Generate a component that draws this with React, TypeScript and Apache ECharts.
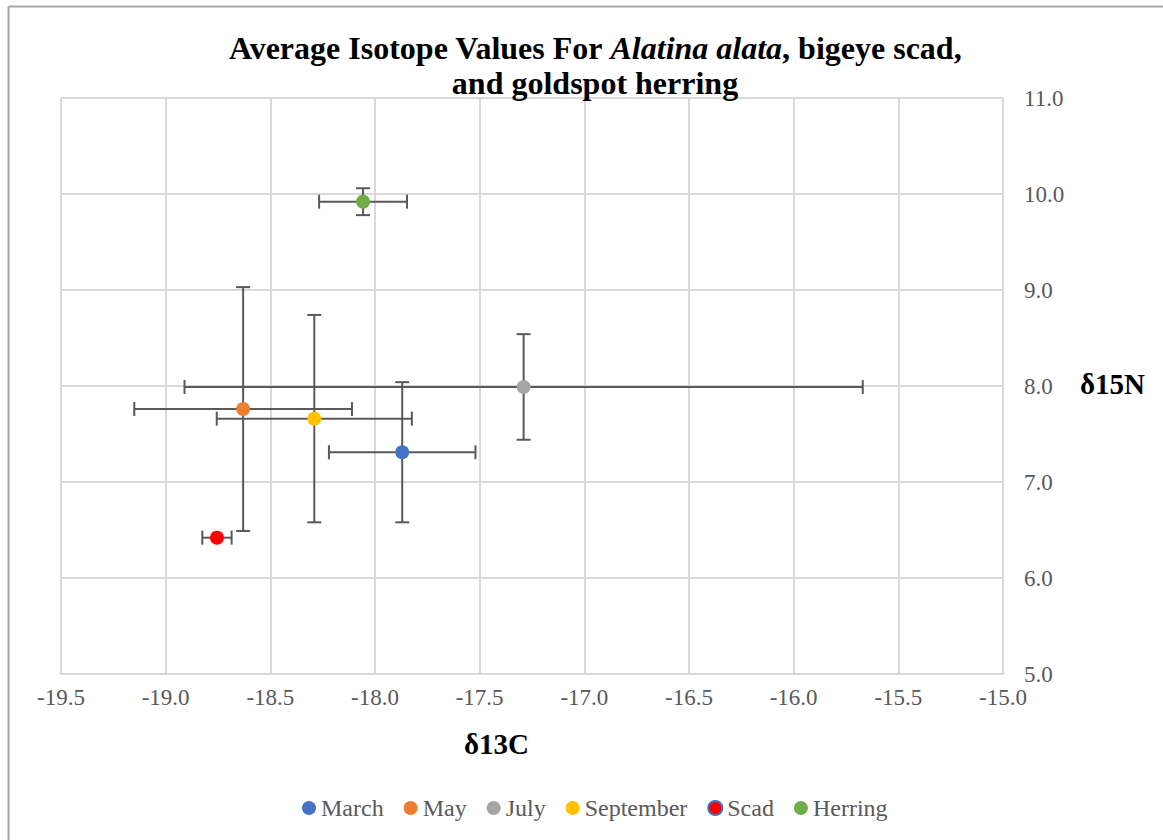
import React, { useEffect, useRef } from "react";
import * as echarts from "echarts";

const seriesNames = ["March", "May", "July", "September", "Scad", "Herring"];
const colors = ["#4472C4", "#ED7D31", "#A5A5A5", "#FFC000", "#FF0000", "#70AD47"];
const d13C = [-17.87, -18.63, -17.29, -18.29, -18.755, -18.057];
const d15N = [7.31, 7.76, 7.99, 7.66, 6.42, 9.92];
const errC = [0.35, 0.52, 1.62, 0.466, 0.07, 0.21];
const errN = [0.73, 1.27, 0.55, 1.08, 0.0, 0.14];
const xTicks = { min: -19.5, max: -15.0, interval: 0.5 };
const yTicks = { min: 5.0, max: 11.0, interval: 1.0 };

const FONT = "Liberation Serif";

export default function App() {
  const ref = useRef<HTMLDivElement>(null);
  useEffect(() => {
    const chart = echarts.init(ref.current!, null, { renderer: "svg" });
    const errData = seriesNames.map((_, i) => [d13C[i], d15N[i], errC[i], errN[i]]);
    const option: any = {
      animation: false,
      backgroundColor: "#ffffff",
      textStyle: { fontFamily: FONT },
      title: {
        text: "Average Isotope Values For {i|Alatina alata}, bigeye scad,\nand goldspot herring",
        left: 590,
        textAlign: "center",
        top: 25,
        textStyle: {
          fontFamily: FONT,
          fontWeight: "bold",
          fontSize: 32,
          color: "#000000",
          lineHeight: 35,
          rich: {
            i: {
              fontFamily: FONT,
              fontWeight: "bold",
              fontStyle: "italic",
              fontSize: 32,
              color: "#000000",
              lineHeight: 35,
            },
          },
        },
      },
      grid: { left: 61, right: 160, top: 98, bottom: 166, containLabel: false },
      xAxis: {
        type: "value",
        min: xTicks.min,
        max: xTicks.max,
        interval: xTicks.interval,
        axisLine: { show: true, lineStyle: { color: "#d9d9d9", width: 2 } },
        axisTick: { show: false },
        axisLabel: {
          formatter: (v: number) => v.toFixed(1),
          fontFamily: FONT,
          fontSize: 23,
          color: "#595959",
          margin: 12,
        },
        splitLine: { show: true, lineStyle: { color: "#d9d9d9", width: 2 } },
      },
      yAxis: {
        type: "value",
        position: "right",
        min: yTicks.min,
        max: yTicks.max,
        interval: yTicks.interval,
        axisLine: { show: true, lineStyle: { color: "#d9d9d9", width: 2 } },
        axisTick: { show: false },
        axisLabel: {
          formatter: (v: number) => v.toFixed(1),
          fontFamily: FONT,
          fontSize: 23,
          color: "#595959",
          margin: 21,
        },
        splitLine: { show: true, lineStyle: { color: "#d9d9d9", width: 2 } },
      },
      legend: {
        bottom: 15,
        left: 297,
        icon: "circle",
        itemWidth: 14,
        itemHeight: 14,
        itemGap: 20,
        textStyle: { fontFamily: FONT, fontSize: 24, color: "#595959" },
        data: seriesNames.map((n) =>
          n === "Scad"
            ? { name: n, itemStyle: { color: "#FF0000", borderColor: "#4472C4", borderWidth: 2 } }
            : { name: n }
        ),
      },
      graphic: [
        {
          type: "line",
          shape: { x1: 8.5, y1: 6.5, x2: 1163, y2: 6.5 },
          style: { stroke: "#a6a6a6", lineWidth: 2 },
        },
        {
          type: "line",
          shape: { x1: 8.5, y1: 6.5, x2: 8.5, y2: 840 },
          style: { stroke: "#a6a6a6", lineWidth: 2 },
        },
        {
          type: "text",
          left: 464,
          top: 729,
          style: { text: "δ13C", fontFamily: FONT, fontWeight: "bold", fontSize: 29, fill: "#000000" },
        },
        {
          type: "text",
          left: 1080,
          top: 369,
          style: { text: "δ15N", fontFamily: FONT, fontWeight: "bold", fontSize: 29, fill: "#000000" },
        },
      ],
      series: [
        {
          type: "custom",
          name: "errors",
          z: 1,
          silent: true,
          data: errData,
          encode: { x: 0, y: 1 },
          renderItem: (params: any, api: any) => {
            const x = api.value(0);
            const y = api.value(1);
            const ex = api.value(2);
            const ey = api.value(3);
            const left = api.coord([x - ex, y]);
            const right = api.coord([x + ex, y]);
            const top = api.coord([x, y + ey]);
            const bot = api.coord([x, y - ey]);
            const cap = 7;
            const st = { stroke: "#595959", lineWidth: 2 };
            const children: any[] = [
              { type: "line", shape: { x1: left[0], y1: left[1], x2: right[0], y2: right[1] }, style: st },
              { type: "line", shape: { x1: left[0], y1: left[1] - cap, x2: left[0], y2: left[1] + cap }, style: st },
              { type: "line", shape: { x1: right[0], y1: right[1] - cap, x2: right[0], y2: right[1] + cap }, style: st },
            ];
            if (ey > 0) {
              children.push(
                { type: "line", shape: { x1: top[0], y1: top[1], x2: bot[0], y2: bot[1] }, style: st },
                { type: "line", shape: { x1: top[0] - cap, y1: top[1], x2: top[0] + cap, y2: top[1] }, style: st },
                { type: "line", shape: { x1: bot[0] - cap, y1: bot[1], x2: bot[0] + cap, y2: bot[1] }, style: st }
              );
            }
            return { type: "group", children };
          },
        },
        ...seriesNames.map((n, i) => ({
          type: "scatter",
          name: n,
          z: 3,
          symbol: "circle",
          symbolSize: 14,
          itemStyle: { color: colors[i], opacity: 1 },
          data: [[d13C[i], d15N[i]]],
        })),
      ],
    };
    chart.setOption(option);
    return () => chart.dispose();
  }, []);
  return (
    <div
      ref={ref}
      style={{ position: "absolute", left: 0, top: 0, width: 1163, height: 840 }}
    />
  );
}
